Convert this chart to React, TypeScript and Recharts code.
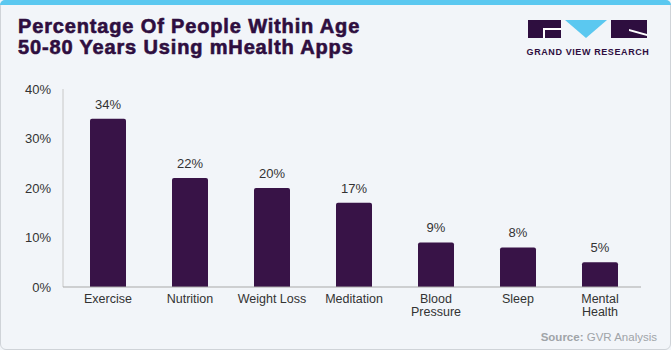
import React from "react";
import { BarChart, Bar, XAxis, YAxis, LabelList } from "recharts";

const categories = ["Exercise", "Nutrition", "Weight Loss", "Meditation", "Blood Pressure", "Sleep", "Mental Health"];
const shares = [34, 22, 20, 17, 9, 8, 5];
const yTicks = [0, 10, 20, 30, 40];

const chartData = categories.map((name, i) => ({ name, value: shares[i] }));

const BAR_COLOR = "#381347";
const TITLE_COLOR = "#2e0e3f";
const TEXT = "#333333";
const FONT = "'Liberation Sans', Arial, sans-serif";

const MultiLineTick = ({ x, y, payload }: any) => {
  const words: string[] = payload.value.split(" ");
  const lines = payload.value === "Weight Loss" ? [payload.value] : words;
  return (
    <text x={x} y={y} textAnchor="middle" fill={TEXT} fontSize={12.5} fontFamily={FONT}>
      {lines.map((line, i) => (
        <tspan key={i} x={x} dy={i === 0 ? 8 : 12.5}>
          {line}
        </tspan>
      ))}
    </text>
  );
};

function Logo() {
  return (
    <svg width={130} height={50} style={{ position: "absolute", left: 523, top: 14 }}>
      <rect x={5} y={6} width={33} height={18} fill={TITLE_COLOR} />
      <rect x={20} y={14} width={18} height={2} fill="#ffffff" />
      <rect x={20} y={16} width={2} height={8} fill="#ffffff" />
      <polygon points="42,6 84,6 63,24" fill="#5bc8f0" />
      <rect x={88} y={6} width={36} height={18} fill={TITLE_COLOR} />
      <polygon points="106,15 124,20 124,22 106,17" fill="#ffffff" />
      <text x={65} y={41} textAnchor="middle" fontSize={9} fontWeight={700} fill={TITLE_COLOR} fontFamily={FONT} letterSpacing={0.6}>
        GRAND VIEW RESEARCH
      </text>
    </svg>
  );
}

export default function App() {
  return (
    <div
      style={{
        position: "fixed",
        left: 0,
        top: 0,
        width: 671,
        height: 350,
        background: "#f2f5f9",
        fontFamily: FONT,
        overflow: "hidden",
      }}
    >
      <div
        style={{
          position: "absolute",
          left: 0,
          top: 0,
          width: 669,
          height: 348,
          border: "1px solid #cfd3d8",
          borderRadius: 6,
          boxSizing: "content-box",
        }}
      />
      <div style={{ position: "absolute", left: 0, top: 0, width: 671, height: 5, background: "#5bc8f0", borderRadius: "6px 6px 0 0" }} />
      <div
        style={{
          position: "absolute",
          left: 18,
          top: 16,
          fontSize: 20,
          lineHeight: "21px",
          fontWeight: 900,
          letterSpacing: 0.85,
          WebkitTextStroke: "0.6px " + TITLE_COLOR,
          color: TITLE_COLOR,
        }}
      >
        Percentage Of People Within Age
        <br />
        50-80 Years Using mHealth Apps
      </div>
      <Logo />
      <div style={{ position: "absolute", left: 0, top: 0 }}>
        <BarChart
          width={671}
          height={350}
          data={chartData}
          margin={{ top: 89, right: 30, bottom: 3, left: 8 }}
        >
          <YAxis
            domain={[0, 40]}
            ticks={yTicks}
            tickFormatter={(v: number) => `${v}%`}
            width={55}
            tickLine={false}
            axisLine={{ stroke: "#c8c8c8" }}
            tick={{ fill: TEXT, fontSize: 13, fontFamily: FONT }}
            tickMargin={6}
          />
          <XAxis
            dataKey="name"
            interval={0}
            height={60}
            tickLine={false}
            axisLine={{ stroke: "#a9a9a9" }}
            padding={{ left: 4, right: 0 }}
            tick={<MultiLineTick />}
          />
          <Bar dataKey="value" fill={BAR_COLOR} barSize={36} radius={[2, 2, 0, 0]} isAnimationActive={false}>
            <LabelList
              dataKey="value"
              position="top"
              offset={10}
              formatter={(v: any) => `${v}%`}
              style={{ fill: TEXT, fontSize: 13, fontFamily: FONT }}
            />
          </Bar>
        </BarChart>
      </div>
      <div style={{ position: "absolute", right: 14, top: 331, fontSize: 11.5, color: "#a0a4a8" }}>
        <b>Source:</b> GVR Analysis
      </div>
    </div>
  );
}
